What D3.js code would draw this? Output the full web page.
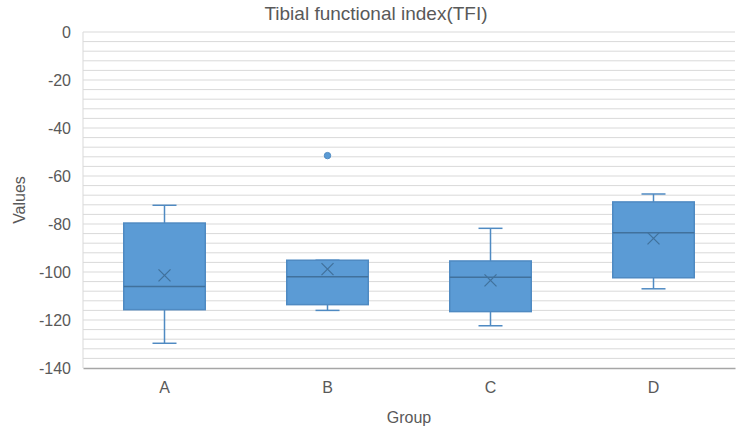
<!DOCTYPE html>
<html>
<head>
<meta charset="utf-8">
<script src="https://cdn.jsdelivr.net/npm/d3@7"></script>
<style>
  body { margin: 0; background: #fff; }
  text { font-family: 'Liberation Sans', Arial, sans-serif; fill: #595959; }
</style>
</head>
<body>
<div id="svg-container"></div>
<script>
const groups = ['A', 'B', 'C', 'D']
const whiskerLow = [-129.7, -116, -122.4, -107]
const q1 = [-115.7, -113.6, -116.5, -102.4]
const medians = [-106, -102, -102.2, -83.6]
const q3 = [-79.6, -95.1, -95.4, -70.8]
const whiskerHigh = [-72.2, -95.1, -81.8, -67.5]
const means = [-101.4, -98.8, -103.5, -86]
const outliers = [{ group: 'B', value: -51.5 }]
const yTicks = [0, -20, -40, -60, -80, -100, -120, -140]

const svgWidth = 747
const svgHeight = 437
const marginTop = 32
const marginRight = 12
const marginBottom = 69
const marginLeft = 83
const width = svgWidth - marginLeft - marginRight
const height = svgHeight - marginTop - marginBottom

const boxFill = '#5b9bd5'
const boxStroke = '#4f8ac2'
const darkLine = '#41719c'

const data = groups.map((g, i) => ({
  group: g,
  lo: whiskerLow[i],
  q1: q1[i],
  median: medians[i],
  q3: q3[i],
  hi: whiskerHigh[i],
  mean: means[i],
}))

const svg = d3
  .select('#svg-container')
  .append('svg')
  .attr('width', svgWidth)
  .attr('height', svgHeight)

const coreChart = svg
  .append('g')
  .attr('transform', `translate(${marginLeft}, ${marginTop})`)

const xScale = d3.scaleBand().domain(groups).range([0, width]).paddingInner(0.5).paddingOuter(0.25)
const yScale = d3.scaleLinear().domain([-140, 0]).range([height, 0])

// gridlines every 4
coreChart
  .append('g')
  .selectAll('line')
  .data(d3.range(-136, 1, 4))
  .join('line')
  .attr('x1', 0)
  .attr('x2', width)
  .attr('y1', d => yScale(d))
  .attr('y2', d => yScale(d))
  .attr('stroke', '#d9d9d9')
  .attr('stroke-width', 1)

// left axis line
coreChart
  .append('line')
  .attr('x1', 0)
  .attr('x2', 0)
  .attr('y1', 0)
  .attr('y2', height)
  .attr('stroke', '#d9d9d9')

// y-axis labels (plain hyphen minus like the original)
const yAxis = coreChart.append('g').attr('class', 'y-axis')
yAxis
  .call(d3.axisLeft(yScale).tickValues(yTicks).tickSize(0).tickPadding(12).tickFormat(d => String(d)))
  .call(g => g.select('.domain').remove())
  .call(g => g.selectAll('text').style('font-size', '16px').attr('fill', '#595959'))

// x-axis
const xAxis = coreChart
  .append('g')
  .attr('transform', `translate(0, ${height})`)
xAxis
  .call(d3.axisBottom(xScale).tickSize(0).tickPadding(14))
  .call(g => g.select('.domain').attr('stroke', '#a6a6a6').attr('stroke-width', 1.5))
  .call(g => g.selectAll('text').style('font-size', '16px').attr('fill', '#595959'))

const bw = xScale.bandwidth()
const capW = 24

const box = coreChart
  .append('g')
  .selectAll('g')
  .data(data)
  .join('g')
  .attr('transform', d => `translate(${xScale(d.group)}, 0)`)

// whiskers
box
  .append('line')
  .attr('x1', bw / 2)
  .attr('x2', bw / 2)
  .attr('y1', d => yScale(d.hi))
  .attr('y2', d => yScale(d.lo))
  .attr('stroke', boxStroke)
  .attr('stroke-width', 1.5)
box
  .selectAll('.cap')
  .data(d => [d.lo, d.hi])
  .join('line')
  .attr('class', 'cap')
  .attr('x1', bw / 2 - capW / 2)
  .attr('x2', bw / 2 + capW / 2)
  .attr('y1', d => yScale(d))
  .attr('y2', d => yScale(d))
  .attr('stroke', boxStroke)
  .attr('stroke-width', 1.5)

box
  .append('rect')
  .attr('x', 0)
  .attr('width', bw)
  .attr('y', d => yScale(d.q3))
  .attr('height', d => yScale(d.q1) - yScale(d.q3))
  .attr('fill', boxFill)
  .attr('stroke', boxStroke)
  .attr('stroke-width', 1.5)

box
  .append('line')
  .attr('x1', 0)
  .attr('x2', bw)
  .attr('y1', d => yScale(d.median))
  .attr('y2', d => yScale(d.median))
  .attr('stroke', darkLine)
  .attr('stroke-width', 1.5)

// mean markers (x)
const mk = 6
box
  .append('path')
  .attr('d', d => {
    const cx = bw / 2
    const cy = yScale(d.mean)
    return `M${cx - mk},${cy - mk}L${cx + mk},${cy + mk}M${cx - mk},${cy + mk}L${cx + mk},${cy - mk}`
  })
  .attr('stroke', darkLine)
  .attr('stroke-width', 1.3)
  .attr('fill', 'none')

// outliers
coreChart
  .append('g')
  .selectAll('circle')
  .data(outliers)
  .join('circle')
  .attr('cx', d => xScale(d.group) + bw / 2)
  .attr('cy', d => yScale(d.value))
  .attr('r', 3.2)
  .attr('fill', boxFill)
  .attr('stroke', boxStroke)

// titles
svg
  .append('text')
  .attr('x', 376)
  .attr('y', 20)
  .attr('text-anchor', 'middle')
  .style('font-size', '19px')
  .text('Tibial functional index(TFI)')

svg
  .append('text')
  .attr('transform', 'translate(25, 200) rotate(-90)')
  .attr('text-anchor', 'middle')
  .style('font-size', '16px')
  .text('Values')

svg
  .append('text')
  .attr('x', 409)
  .attr('y', 423)
  .attr('text-anchor', 'middle')
  .style('font-size', '16px')
  .text('Group')
</script>
</body>
</html>
